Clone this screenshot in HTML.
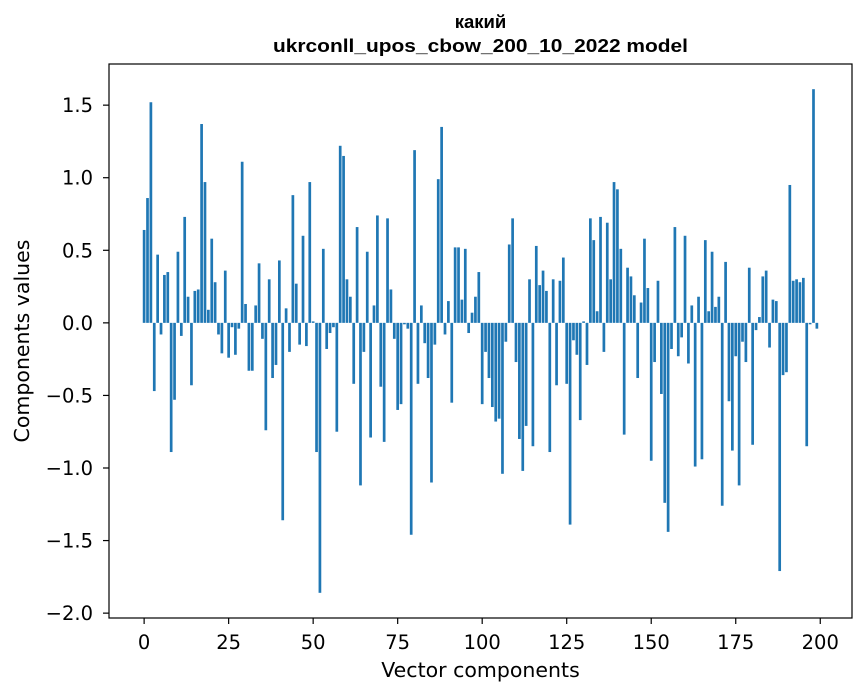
<!DOCTYPE html>
<html><head><meta charset="utf-8"><style>
body{margin:0;background:#fff;}
svg{display:block;font-family:"DejaVu Sans","Liberation Sans",sans-serif;}
</style></head><body>
<svg id="chart" width="867" height="696">
<text x="480.5" y="28" text-anchor="middle" font-size="18.5" font-weight="bold" font-family="Liberation Sans, sans-serif">какий</text>
<text x="480.5" y="52" text-anchor="middle" font-size="18.5" font-weight="bold" font-family="Liberation Sans, sans-serif" textLength="415" lengthAdjust="spacingAndGlyphs">ukrconll_upos_cbow_200_10_2022 model</text>
<g id="bars"></g>
<rect x="109" y="64" width="743" height="554" fill="none" stroke="#000" stroke-width="1.2"/>
<g id="xticks"></g>
<g id="yticks"></g>
<text x="480.5" y="677" text-anchor="middle" font-size="20.5">Vector components</text>
<text transform="translate(29,341) rotate(-90)" text-anchor="middle" font-size="20.5">Components values</text>
</svg>
<script>
const values = [
0.64,0.86,1.52,-0.47,0.47,-0.08,0.33,0.35,-0.89,-0.53,
0.49,-0.09,0.73,0.18,-0.43,0.22,0.23,1.37,0.97,0.09,
0.58,0.28,-0.08,-0.21,0.36,-0.24,-0.03,-0.22,-0.04,1.11,
0.13,-0.33,-0.33,0.12,0.41,-0.11,-0.74,0.30,-0.38,-0.29,
0.43,-1.36,0.10,-0.20,0.88,0.27,-0.15,0.60,-0.16,0.97,
0.01,-0.89,-1.86,0.51,-0.18,-0.07,-0.03,-0.75,1.22,1.15,
0.30,0.18,-0.42,0.66,-1.12,-0.20,0.49,-0.79,0.12,0.74,
-0.44,-0.82,0.72,0.23,-0.11,-0.60,-0.56,-0.01,-0.04,-1.46,
1.19,-0.42,0.12,-0.14,-0.38,-1.10,-0.15,0.99,1.35,-0.08,
0.15,-0.55,0.52,0.52,0.16,0.51,-0.07,0.07,0.18,0.35,
-0.56,-0.20,-0.38,-0.58,-0.68,-0.66,-1.04,-0.13,0.54,0.72,
-0.27,-0.80,-1.02,-0.71,0.30,-0.85,0.53,0.26,0.36,0.22,
-0.89,0.30,-0.43,0.29,0.45,-0.42,-1.39,-0.12,-0.22,-0.67,
0.01,-0.29,0.72,0.57,0.08,0.73,-0.20,0.69,0.30,0.97,
0.92,0.51,-0.77,0.38,0.32,0.19,-0.38,0.14,0.58,0.24,
-0.95,-0.27,0.29,-0.49,-1.24,-1.44,-0.18,0.66,-0.23,-0.10,
0.60,-0.28,0.12,-0.99,0.18,-0.94,0.57,0.08,0.49,0.11,
0.18,-1.26,0.42,-0.54,-0.88,-0.23,-1.12,-0.13,-0.27,0.38,
-0.84,-0.05,0.04,0.32,0.36,-0.17,0.16,0.15,-1.71,-0.36,
-0.34,0.95,0.29,0.30,0.28,0.31,-0.85,-0.01,1.61,-0.04
];
const xTickValues = [0,25,50,75,100,125,150,175,200];
const yTickValues = [-2.0,-1.5,-1.0,-0.5,0.0,0.5,1.0,1.5];

const NS = "http://www.w3.org/2000/svg";
const L=109,R=852,T=64,B=618;
const n = values.length;
const xMin = -0.4 - 0.05*(n-0.2), xMax = (n-1)+0.4 + 0.05*(n-0.2);
const vMin = Math.min(0,...values), vMax = Math.max(0,...values);
const yMin = vMin - 0.05*(vMax-vMin), yMax = vMax + 0.05*(vMax-vMin);
function xs(v){return L+(v-xMin)/(xMax-xMin)*(R-L);}
function ys(v){return B-(v-yMin)/(yMax-yMin)*(B-T);}

const bars=document.getElementById('bars');
values.forEach((v,i)=>{
  const r=document.createElementNS(NS,'rect');
  const x0=xs(i-0.4), x1=xs(i+0.4);
  const y0=ys(Math.max(v,0)), y1=ys(Math.min(v,0));
  r.setAttribute('x',x0);r.setAttribute('width',x1-x0);
  r.setAttribute('y',y0);r.setAttribute('height',Math.max(y1-y0,0.3));
  r.setAttribute('fill','#1f77b4');
  
  
  bars.appendChild(r);
});
const xt=document.getElementById('xticks');
xTickValues.forEach(t=>{
  const x=xs(t);
  const l=document.createElementNS(NS,'line');
  l.setAttribute('x1',x);l.setAttribute('x2',x);l.setAttribute('y1',B);l.setAttribute('y2',B+6);
  l.setAttribute('stroke','#000');l.setAttribute('stroke-width','1.2');
  
  
  xt.appendChild(l);
  const tx=document.createElementNS(NS,'text');
  tx.setAttribute('x',x);tx.setAttribute('y',B+31);tx.setAttribute('text-anchor','middle');tx.setAttribute('font-size','19.5');
  tx.textContent=String(t);
  
  
  xt.appendChild(tx);
});
const yt=document.getElementById('yticks');
yTickValues.forEach(t=>{
  const y=ys(t);
  const l=document.createElementNS(NS,'line');
  l.setAttribute('x1',L-6);l.setAttribute('x2',L);l.setAttribute('y1',y);l.setAttribute('y2',y);
  l.setAttribute('stroke','#000');l.setAttribute('stroke-width','1.2');
  
  
  yt.appendChild(l);
  const tx=document.createElementNS(NS,'text');
  tx.setAttribute('x',L-16);tx.setAttribute('y',y+7);tx.setAttribute('text-anchor','end');tx.setAttribute('font-size','19.5');
  tx.textContent=(t<0?'\u2212':'')+Math.abs(t).toFixed(1);
  
  
  yt.appendChild(tx);
});
</script>
</body></html>
